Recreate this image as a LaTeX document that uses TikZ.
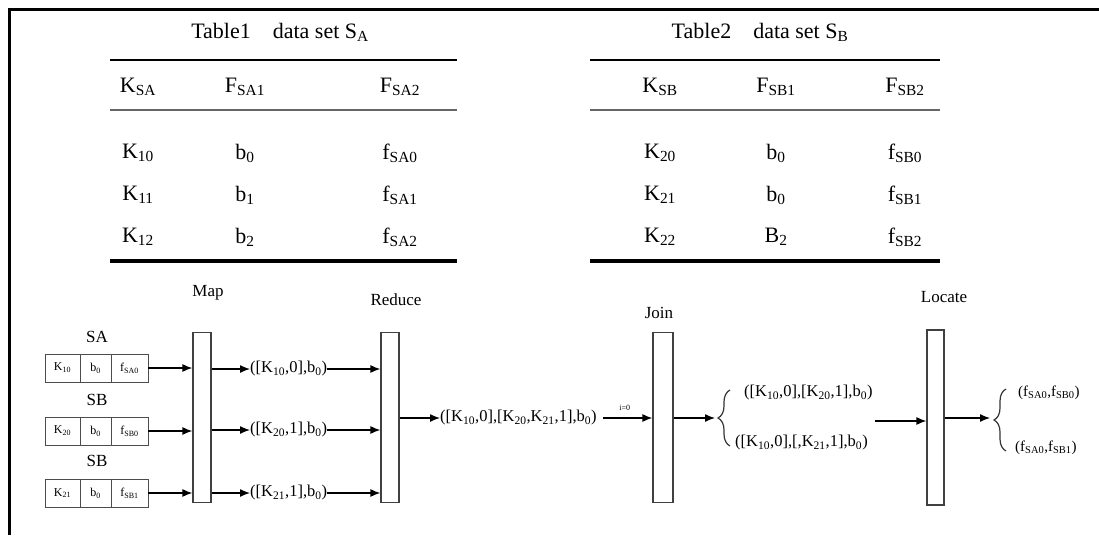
\documentclass[tikz,border=0pt]{standalone}
\usepackage{fontspec}
\setmainfont{Liberation Serif}
\usetikzlibrary{positioning,decorations.pathreplacing,arrows.meta}
\newcommand{\sbs}[1]{\textsubscript{#1}}
\tikzset{
	tbl/.style={font=\fontsize{22}{24}\selectfont, inner sep=0pt},
	rule/.style={line width=2.5pt},
	midrule/.style={line width=2pt, black!60},
	botrule/.style={line width=3.5pt},
	bar/.style={draw=black!75, line width=1.2pt, fill=white, minimum width=18pt, minimum height=170pt, inner sep=0pt},
	cell/.style={draw=black!70, line width=1pt, minimum height=28pt, inner sep=0pt, outer sep=0pt, font=\fontsize{12}{13}\selectfont},
	step label/.style={font=\fontsize{17}{19}\selectfont},
	tuple/.style={font=\fontsize{16.5}{18}\selectfont, inner sep=0pt, anchor=west},
	arr/.style={->, line width=1.3pt},
	brc/.style={decorate, decoration={brace, amplitude=12pt}, line width=1.2pt, black!80}
}
\begin{document}
\begin{tikzpicture}[x=1pt, y=-1pt, >={Latex[length=10pt,width=8pt]}]
	\useasboundingbox (0,0) rectangle (1099,535);
	\draw[line width=3pt](9,535)--(9,10)--(1099,10);
	% table 1
	\node[tbl] (t1) at (280,32) {Table1\quad data set S\sbs{A}};
	\draw[rule](110,60)--(457,60);
	\draw[midrule](110,110)--(457,110);
	\draw[botrule](110,261)--(457,261);
	\node[tbl] (t1h1) at (138,87) {K\sbs{SA}};
	\node[tbl] (t1h2) at (245,87) {F\sbs{SA1}};
	\node[tbl] (t1h3) at (400,87) {F\sbs{SA2}};
	\node[tbl] (t1a1) at (138,153) {K\sbs{10}};
	\node[tbl] (t1a2) at (245,153) {b\sbs{0}};
	\node[tbl] (t1a3) at (400,153) {f\sbs{SA0}};
	\node[tbl] (t1b1) at (138,195) {K\sbs{11}};
	\node[tbl] (t1b2) at (245,195) {b\sbs{1}};
	\node[tbl] (t1b3) at (400,195) {f\sbs{SA1}};
	\node[tbl] (t1c1) at (138,237) {K\sbs{12}};
	\node[tbl] (t1c2) at (245,237) {b\sbs{2}};
	\node[tbl] (t1c3) at (400,237) {f\sbs{SA2}};
	% table 2
	\node[tbl] (t2) at (760,32) {Table2\quad data set S\sbs{B}};
	\draw[rule](590,60)--(940,60);
	\draw[midrule](590,110)--(940,110);
	\draw[botrule](590,261)--(940,261);
	\node[tbl] (t2h1) at (660,87) {K\sbs{SB}};
	\node[tbl] (t2h2) at (776,87) {F\sbs{SB1}};
	\node[tbl] (t2h3) at (905,87) {F\sbs{SB2}};
	\node[tbl] (t2a1) at (660,153) {K\sbs{20}};
	\node[tbl] (t2a2) at (776,153) {b\sbs{0}};
	\node[tbl] (t2a3) at (905,153) {f\sbs{SB0}};
	\node[tbl] (t2b1) at (660,195) {K\sbs{21}};
	\node[tbl] (t2b2) at (776,195) {b\sbs{0}};
	\node[tbl] (t2b3) at (905,195) {f\sbs{SB1}};
	\node[tbl] (t2c1) at (660,237) {K\sbs{22}};
	\node[tbl] (t2c2) at (776,237) {B\sbs{2}};
	\node[tbl] (t2c3) at (905,237) {f\sbs{SB2}};
	% processing bars
	\node[bar] (map) at (202,417.5) {};
	\node[bar] (red) at (390,417.5) {};
	\node[bar, minimum width=20pt] (join) at (663,417.5) {};
	\node[bar, minimum width=17pt, minimum height=175pt] (loc) at (935.5,417.5) {};
	\node[step label] (lmap) at (208,293) {Map};
	\node[step label] (lred) at (396,300) {Reduce};
	\node[step label] (ljoin) at (659,313) {Join};
	\node[step label] (lloc) at (944,297) {Locate};
	% records
	\node[step label] (sa) at (97,337) {SA};
	\node[cell, minimum width=35pt] (a1) at (62.5,368) {K\sbs{10}};
	\node[cell, minimum width=31pt, right=0pt of a1] (a2) {b\sbs{0}};
	\node[cell, minimum width=37pt, right=0pt of a2] (a3) {f\sbs{SA0}};
	\node[step label] (sb1) at (97,400) {SB};
	\node[cell, minimum width=35pt] (b1) at (62.5,431) {K\sbs{20}};
	\node[cell, minimum width=31pt, right=0pt of b1] (b2) {b\sbs{0}};
	\node[cell, minimum width=37pt, right=0pt of b2] (b3) {f\sbs{SB0}};
	\node[step label] (sb2) at (97,461) {SB};
	\node[cell, minimum width=35pt] (c1) at (62.5,493) {K\sbs{21}};
	\node[cell, minimum width=31pt, right=0pt of c1] (c2) {b\sbs{0}};
	\node[cell, minimum width=37pt, right=0pt of c2] (c3) {f\sbs{SB1}};
	\draw[arr](a3.east)--(a3.east -| map.west);
	\draw[arr](b3.east)--(b3.east -| map.west);
	\draw[arr](c3.east)--(c3.east -| map.west);
	% map output
	\node[tuple] (m1) at (250,369) {([K\sbs{10},0],b\sbs{0})};
	\node[tuple] (m2) at (250,430) {([K\sbs{20},1],b\sbs{0})};
	\node[tuple] (m3) at (250,493) {([K\sbs{21},1],b\sbs{0})};
	\draw[arr](map.east |- m1.west)--(m1.west);
	\draw[arr](map.east |- m2.west)--(m2.west);
	\draw[arr](map.east |- m3.west)--(m3.west);
	\draw[arr](m1.east)--(m1.east -| red.west);
	\draw[arr](m2.east)--(m2.east -| red.west);
	\draw[arr](m3.east)--(m3.east -| red.west);
	% reduce output
	\node[tuple] (r) at (440,418) {([K\sbs{10},0],[K\sbs{20},K\sbs{21},1],b\sbs{0})};
	\draw[arr](red.east |- r.west)--(r.west);
	\draw[arr,shorten <=6pt](r.east)--node[above=3pt, font=\fontsize{8}{9}\selectfont](i0){i=0}(r.east -| join.west);
	% join output
	\coordinate (jtip) at (715,418);
	\draw[arr](join.east |- jtip)--(jtip);
	\draw[brc](730,446)--(730,390);
	\node[tuple] (j1) at (744,393) {([K\sbs{10},0],[K\sbs{20},1],b\sbs{0})};
	\node[tuple] (j2) at (735,443) {([K\sbs{10},0],[,K\sbs{21},1],b\sbs{0})};
	% locate
	\coordinate (lin) at (875,421);
	\draw[arr](lin)--(lin -| loc.west);
	\coordinate (ltip) at (990,418);
	\draw[arr](loc.east |- ltip)--(ltip);
	\draw[brc](1006,451)--(1006,389);
	\node[tuple, font=\fontsize{15}{17}\selectfont] (l1) at (1018,393) {(f\sbs{SA0},f\sbs{SB0})};
	\node[tuple, font=\fontsize{15}{17}\selectfont] (l2) at (1015,448) {(f\sbs{SA0},f\sbs{SB1})};
\end{tikzpicture}
\end{document}
